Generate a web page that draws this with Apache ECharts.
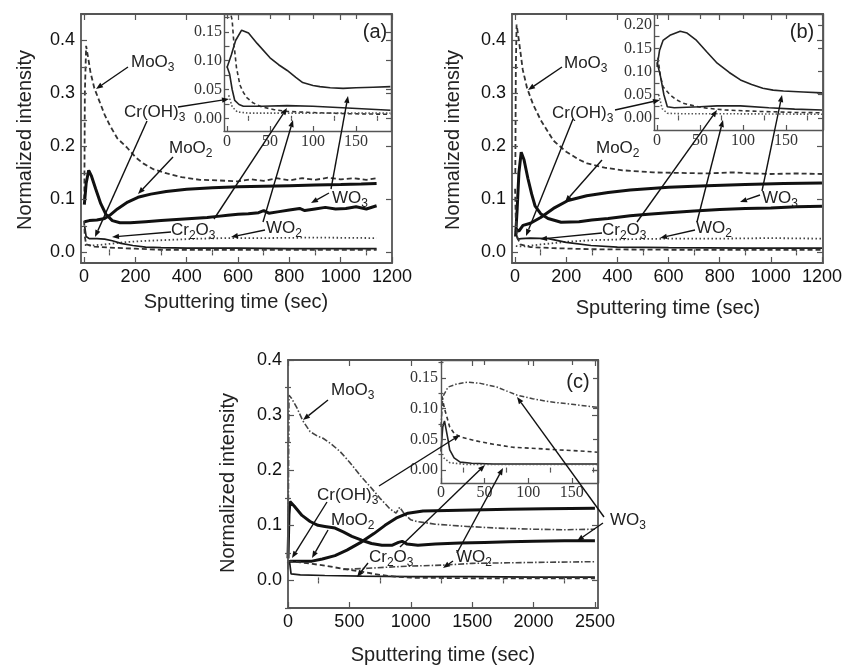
<!DOCTYPE html>
<html><head><meta charset="utf-8">
<script src="https://cdn.jsdelivr.net/npm/echarts@6/dist/echarts.min.js"></script>
<style>html,body{margin:0;padding:0;background:#fff}#c{width:847px;height:666px}</style>
</head><body><div id="c"></div>
<script>
// ---------------- DATA (time in sec, normalized intensity) ----------------
// Panel (a) main
const a_MoO3 = [[1,0.10],[3,0.30],[8,0.39],[15,0.37],[25,0.34],[40,0.31],[60,0.285],[80,0.26],[100,0.24],[130,0.215],[167,0.198],[200,0.18],[230,0.168],[270,0.157],[323,0.149],[380,0.142],[452,0.137],[520,0.136],[600,0.134],[650,0.138],[700,0.135],[750,0.14],[800,0.136],[850,0.14],[900,0.137],[950,0.141],[1000,0.138],[1050,0.14],[1100,0.137],[1140,0.14]];
const a_MoO2 = [[2,0.058],[20,0.06],[50,0.061],[80,0.064],[100,0.07],[130,0.082],[170,0.095],[210,0.104],[260,0.11],[320,0.115],[400,0.119],[500,0.122],[600,0.124],[700,0.125],[800,0.126],[900,0.127],[1000,0.128],[1080,0.129],[1140,0.13]];
const a_WO3 = [[1,0.09],[8,0.13],[18,0.155],[28,0.145],[45,0.12],[65,0.092],[85,0.072],[110,0.06],[140,0.056],[180,0.056],[240,0.058],[300,0.06],[360,0.062],[420,0.064],[480,0.066],[520,0.068],[560,0.07],[600,0.072],[640,0.073],[680,0.075],[700,0.079],[720,0.074],[760,0.077],[800,0.08],[840,0.083],[860,0.079],[900,0.082],[940,0.085],[980,0.082],[1020,0.083],[1060,0.086],[1100,0.082],[1140,0.088]];
const a_WO2 = [[3,0.014],[30,0.013],[80,0.015],[150,0.019],[250,0.022],[350,0.024],[450,0.026],[550,0.027],[700,0.027],[900,0.028],[1140,0.027]];
const a_Cr2O3 = [[2,0.05],[8,0.03],[20,0.026],[50,0.026],[80,0.025],[110,0.022],[144,0.017],[190,0.013],[240,0.01],[300,0.009],[400,0.008],[600,0.008],[800,0.007],[1000,0.007],[1140,0.007]];
const a_CrOH3 = [[0,0.06],[3,0.03],[8,0.015],[40,0.011],[100,0.009],[200,0.007],[300,0.005],[500,0.005],[800,0.005],[1140,0.005]];
// Panel (a) inset (0-180 s)
const ia_WO3 = [[0,0.088],[5,0.11],[10,0.135],[17,0.153],[25,0.148],[35,0.13],[50,0.105],[60,0.093],[70,0.083],[80,0.071],[88,0.062],[100,0.057],[108,0.055],[120,0.053],[135,0.052],[150,0.053],[170,0.054],[190,0.055]];
const ia_dash = [[3,0.19],[6,0.17],[8,0.13],[11,0.088],[15,0.058],[19,0.045],[23,0.036],[30,0.027],[40,0.02],[55,0.015],[70,0.012],[100,0.01],[140,0.008],[190,0.007]];
const ia_CrOH3 = [[0,0.09],[3,0.077],[6,0.05],[9,0.031],[14,0.024],[19,0.021],[40,0.021],[70,0.022],[100,0.021],[140,0.018],[190,0.014]];
const ia_dot = [[2,0.04],[6,0.02],[12,0.011],[25,0.009],[60,0.009],[100,0.009],[190,0.009]];
// Panel (b) main
const b_MoO3 = [[1,0.15],[3,0.35],[6,0.43],[15,0.40],[30,0.345],[47,0.31],[70,0.28],[100,0.25],[150,0.211],[200,0.19],[250,0.175],[282,0.168],[350,0.16],[420,0.155],[540,0.151],[650,0.15],[750,0.149],[850,0.151],[930,0.149],[1000,0.148],[1100,0.149],[1200,0.148]];
const b_MoO2 = [[2,0.045],[15,0.04],[31,0.051],[60,0.055],[100,0.066],[150,0.083],[207,0.098],[280,0.107],[364,0.113],[450,0.118],[600,0.123],[750,0.126],[900,0.128],[1050,0.13],[1200,0.131]];
const b_WO3 = [[2,0.03],[8,0.08],[15,0.15],[24,0.189],[35,0.175],[50,0.14],[65,0.11],[78,0.088],[100,0.073],[129,0.064],[180,0.057],[250,0.058],[300,0.061],[364,0.064],[450,0.069],[520,0.072],[600,0.075],[700,0.078],[800,0.081],[900,0.083],[1000,0.084],[1100,0.086],[1200,0.087]];
const b_WO2 = [[3,0.012],[30,0.011],[100,0.015],[200,0.02],[300,0.023],[450,0.025],[600,0.026],[800,0.026],[1000,0.027],[1200,0.026]];
const b_Cr2O3 = [[2,0.04],[10,0.025],[24,0.026],[60,0.027],[130,0.026],[200,0.019],[297,0.013],[400,0.01],[600,0.009],[900,0.008],[1200,0.008]];
const b_CrOH3 = [[0,0.12],[3,0.06],[8,0.03],[20,0.015],[60,0.01],[150,0.008],[300,0.006],[600,0.005],[1200,0.005]];
// Panel (b) inset
const ib_WO3 = [[0,0.11],[3,0.146],[7,0.167],[15,0.178],[27,0.187],[35,0.183],[46,0.167],[58,0.142],[70,0.118],[84,0.098],[97,0.082],[110,0.072],[123,0.064],[135,0.06],[147,0.058],[170,0.056],[192,0.054]];
const ib_dash = [[1,0.13],[4,0.09],[7,0.067],[15,0.05],[22,0.04],[30,0.032],[45,0.025],[58,0.021],[80,0.017],[120,0.014],[160,0.012],[192,0.011]];
const ib_CrOH3 = [[0,0.12],[4,0.09],[8,0.05],[12,0.024],[20,0.022],[50,0.024],[70,0.026],[97,0.026],[130,0.022],[160,0.019],[192,0.017]];
const ib_dot = [[2,0.05],[6,0.02],[12,0.01],[30,0.009],[80,0.009],[192,0.008]];
// Panel (c) main
const c_MoO3 = [[0,0.02],[8,0.336],[30,0.33],[73,0.313],[120,0.29],[180,0.27],[240,0.262],[285,0.258],[350,0.248],[424,0.234],[500,0.215],[590,0.19],[670,0.17],[750,0.149],[830,0.13],[880,0.122],[910,0.133],[950,0.12],[1000,0.11],[1050,0.107],[1200,0.102],[1460,0.098],[1700,0.095],[2000,0.093],[2250,0.092],[2500,0.093]];
const c_WO3 = [[0,0.04],[8,0.12],[16,0.143],[50,0.135],[114,0.118],[180,0.107],[244,0.1],[300,0.098],[383,0.095],[450,0.088],[520,0.08],[600,0.073],[680,0.067],[765,0.064],[850,0.064],[900,0.069],[930,0.071],[970,0.066],[1058,0.064],[1200,0.066],[1400,0.068],[1600,0.069],[1800,0.07],[2000,0.071],[2250,0.072],[2500,0.072]];
const c_MoO2 = [[0,0.03],[16,0.035],[100,0.035],[195,0.035],[280,0.039],[383,0.045],[480,0.055],[600,0.07],[700,0.085],[790,0.1],[880,0.113],[977,0.122],[1100,0.126],[1300,0.127],[1500,0.128],[1800,0.129],[2100,0.13],[2500,0.131]];
const c_Cr2O3 = [[0,0.035],[15,0.03],[25,0.012],[100,0.01],[300,0.009],[600,0.008],[1000,0.007],[1500,0.007],[2000,0.006],[2500,0.006]];
const c_CrOH3 = [[0,0.035],[100,0.033],[200,0.03],[300,0.027],[450,0.021],[600,0.016],[750,0.01],[870,0.007],[1000,0.005],[1500,0.004],[2000,0.004],[2500,0.004]];
const c_WO2 = [[450,0.02],[650,0.022],[800,0.024],[1000,0.026],[1280,0.028],[1500,0.031],[1800,0.032],[2100,0.033],[2500,0.034]];
// Panel (c) inset
const ic_WO3 = [[0,0.07],[2,0.119],[8,0.135],[18,0.14],[30,0.143],[45,0.141],[64,0.135],[87,0.122],[105,0.116],[125,0.111],[150,0.107],[180,0.102]];
const ic_CrOH3 = [[1,0.12],[4,0.1],[7,0.085],[10,0.07],[15,0.06],[22,0.054],[30,0.051],[45,0.046],[60,0.042],[83,0.037],[110,0.035],[133,0.033],[160,0.031],[180,0.029]];
const ic_Cr2O3 = [[0,0.03],[2,0.07],[4,0.08],[6,0.078],[8,0.05],[10,0.033],[15,0.02],[22,0.013],[35,0.011],[60,0.01],[100,0.01],[180,0.01]];
const ic_dot = [[3,0.02],[10,0.012],[30,0.009],[180,0.009]];

// tick label lists
const mainYTicks = [0, 0.1, 0.2, 0.3, 0.4];
const abXTicks = [0, 200, 400, 600, 800, 1000, 1200];
const cXTicks = [0, 500, 1000, 1500, 2000, 2500];
const insetXTicks = [0, 50, 100, 150];
const insetYTicksAC = [0, 0.05, 0.10, 0.15];
const insetYTicksB = [0, 0.05, 0.10, 0.15, 0.20];

// ---------------- BUILD ----------------
const SANS = '"Liberation Sans", Arial, sans-serif';
const SERIF = '"Liberation Serif", "Times New Roman", serif';
const FRAME = '#555';
const grids = [], xAxes = [], yAxes = [], series = [];
function steps(a, b, s) { const r = []; for (let k = 0; a + k * s <= b + 1e-9; k++) r.push(+(a + k * s).toFixed(4)); return r; }

function panel(rect, xr, yr, xMaj, xMin, yMaj, yMin, L) {
  grids.push({left: rect[0], top: rect[1], width: rect[2], height: rect[3]});
  const gi = grids.length - 1;
  const mk = (isX, pos, vals, len, showLine, showLabel) => ({
    gridIndex: gi, type: 'value', position: pos,
    min: isX ? xr[0] : yr[0], max: isX ? xr[1] : yr[1],
    axisLine: showLine ? {show: true, onZero: false, lineStyle: {color: FRAME, width: L.fw}} : {show: false},
    axisTick: {show: true, inside: true, length: len, customValues: vals, lineStyle: {color: FRAME, width: 1.2}},
    axisLabel: showLabel ? Object.assign({show: true, customValues: vals}, isX ? L.x : L.y) : {show: false},
    splitLine: {show: false}, minorTick: {show: false}, silent: true, z: 4
  });
  const xi = xAxes.length, yi = yAxes.length;
  xAxes.push(mk(true, 'bottom', xMaj, L.tl, true, true));
  xAxes.push(mk(true, 'bottom', xMin, L.tl / 2, false, false));
  xAxes.push(mk(true, 'top', xMaj, L.tl, true, false));
  xAxes.push(mk(true, 'top', xMin, L.tl / 2, false, false));
  yAxes.push(mk(false, 'left', yMaj, L.tl, true, true));
  yAxes.push(mk(false, 'left', yMin, L.tl / 2, false, false));
  yAxes.push(mk(false, 'right', yMaj, L.tl, true, false));
  yAxes.push(mk(false, 'right', yMin, L.tl / 2, false, false));
  return {xi, yi};
}
const mainLab = {
  fw: 1.8, tl: 6,
  x: {fontFamily: SANS, fontSize: 18, color: '#111', margin: 5, formatter: v => String(Math.round(v))},
  y: {fontFamily: SANS, fontSize: 18, color: '#111', margin: 6, formatter: v => v.toFixed(1)}
};
const insetLab = (m) => ({
  fw: 1.4, tl: 5,
  x: {fontFamily: SERIF, fontSize: 16, color: '#333', margin: m[0], formatter: v => String(Math.round(v))},
  y: {fontFamily: SERIF, fontSize: 16, color: '#333', margin: m[1], formatter: v => v.toFixed(2)}
});

const pA = panel([81, 14, 311, 249], [-12, 1200], [-0.02, 0.45], abXTicks, steps(100, 1100, 200), mainYTicks, steps(0.05, 0.45, 0.1), mainLab);
const pAi = panel([224, 14, 167, 117], [-3.5, 190.7], [-0.022, 0.181], insetXTicks, steps(25, 175, 50), insetYTicksAC, steps(0.025, 0.175, 0.05), insetLab([3, 2]));
const pB = panel([512, 14, 311, 249], [-12, 1204], [-0.02, 0.45], abXTicks, steps(100, 1100, 200), mainYTicks, steps(0.05, 0.45, 0.1), mainLab);
const pBi = panel([654, 14, 169, 116], [-3.5, 193], [-0.026, 0.224], insetXTicks, steps(25, 175, 50), insetYTicksB, steps(0.025, 0.225, 0.05), insetLab([3, 2]));
const pC = panel([288, 360, 310, 248], [0, 2525], [-0.05, 0.4], cXTicks, steps(250, 2250, 500), mainYTicks, steps(-0.05, 0.35, 0.1), mainLab);
const pCi = panel([441, 360, 157, 123], [0, 180], [-0.021, 0.179], insetXTicks, steps(25, 175, 50), insetYTicksAC, steps(0.025, 0.175, 0.05), insetLab([2, 3]));

const ST = {
  thick: {color: '#111', width: 3},
  solid: {color: '#1a1a1a', width: 1.7},
  dash: {color: '#333', width: 1.8, type: [5, 3]},
  dot: {color: '#444', width: 1.8, type: [1.5, 2.5]},
  dashdot: {color: '#444', width: 1.6, type: [6, 2, 1.5, 2]},
  iSolid: {color: '#222', width: 1.6},
  iDash: {color: '#333', width: 1.6, type: [4, 3]},
  iDot: {color: '#555', width: 1.6, type: [1.5, 2]},
  iDashdot: {color: '#444', width: 1.5, type: [5, 2, 1.5, 2]}
};
function ln(p, name, data, style) {
  series.push({type: 'line', name, xAxisIndex: p.xi, yAxisIndex: p.yi, data, showSymbol: false, symbol: 'none',
    animation: false, clip: true, silent: true, lineStyle: style, z: 2});
}
ln(pA, 'MoO3', a_MoO3, ST.dash); ln(pA, 'MoO2', a_MoO2, ST.thick); ln(pA, 'WO3', a_WO3, ST.thick);
ln(pA, 'WO2', a_WO2, ST.dot); ln(pA, 'Cr2O3', a_Cr2O3, ST.solid); ln(pA, 'Cr(OH)3', a_CrOH3, ST.dash);
ln(pAi, 'WO3', ia_WO3, ST.iSolid); ln(pAi, 'dash', ia_dash, ST.iDash); ln(pAi, 'Cr(OH)3', ia_CrOH3, ST.iSolid); ln(pAi, 'dot', ia_dot, ST.iDot);
ln(pB, 'MoO3', b_MoO3, ST.dash); ln(pB, 'MoO2', b_MoO2, ST.thick); ln(pB, 'WO3', b_WO3, ST.thick);
ln(pB, 'WO2', b_WO2, ST.dot); ln(pB, 'Cr2O3', b_Cr2O3, ST.solid); ln(pB, 'Cr(OH)3', b_CrOH3, ST.dash);
ln(pBi, 'WO3', ib_WO3, ST.iSolid); ln(pBi, 'dash', ib_dash, ST.iDash); ln(pBi, 'Cr(OH)3', ib_CrOH3, ST.iSolid); ln(pBi, 'dot', ib_dot, ST.iDot);
ln(pC, 'MoO3', c_MoO3, ST.dashdot); ln(pC, 'MoO2', c_MoO2, ST.thick); ln(pC, 'WO3', c_WO3, ST.thick);
ln(pC, 'WO2', c_WO2, ST.dashdot); ln(pC, 'Cr2O3', c_Cr2O3, ST.solid); ln(pC, 'Cr(OH)3', c_CrOH3, ST.dash);
ln(pCi, 'WO3', ic_WO3, ST.iDashdot); ln(pCi, 'Cr(OH)3', ic_CrOH3, ST.iDash); ln(pCi, 'Cr2O3', ic_Cr2O3, ST.iSolid); ln(pCi, 'dot', ic_dot, ST.iDot);

// ---------------- ANNOTATIONS ----------------
const graphic = [];
const RICH = {
  n: {fontFamily: SANS, fontSize: 17, fill: '#222', lineHeight: 17, verticalAlign: 'top'},
  s: {fontFamily: SANS, fontSize: 12, fill: '#222', lineHeight: 12, verticalAlign: 'top', padding: [8, 0, 0, 0]}
};
function label(x, y, parts) {
  const t = parts.map((p, i) => (i % 2 ? '{s|' : '{n|') + p + '}').join('');
  graphic.push({type: 'text', x, y, z: 20, silent: true,
    style: {text: t, rich: RICH, textAlign: 'left', textVerticalAlign: 'middle', fill: '#222'}});
}
function arrow(x1, y1, x2, y2) {
  const a = Math.atan2(y2 - y1, x2 - x1), L = 7, Wd = 2.7;
  const bx = x2 - L * Math.cos(a), by = y2 - L * Math.sin(a);
  graphic.push({type: 'line', z: 19, silent: true, shape: {x1, y1, x2: bx, y2: by}, style: {stroke: '#111', lineWidth: 1.4}});
  graphic.push({type: 'polygon', z: 19, silent: true, shape: {points: [[x2, y2],
    [bx + Wd * Math.sin(a), by - Wd * Math.cos(a)], [bx - Wd * Math.sin(a), by + Wd * Math.cos(a)]]}, style: {fill: '#111'}});
}
function text(x, y, s, size, rot) {
  graphic.push({type: 'text', x, y, rotation: rot || 0, z: 20, silent: true,
    style: {text: s, fontFamily: SANS, fontSize: size, fill: '#222', textAlign: 'center', textVerticalAlign: 'middle'}});
}
// panel (a)
label(131, 62, ['MoO', '3']); label(124, 112, ['Cr(OH)', '3']); label(169, 148, ['MoO', '2']);
label(171, 230, ['Cr', '2', 'O', '3']); label(266, 228, ['WO', '2']); label(332, 198, ['WO', '3']);
arrow(128, 67, 96, 89); arrow(178, 107, 229, 99); arrow(147, 121, 95, 237); arrow(173, 157, 138, 194);
arrow(171, 232, 112, 237); arrow(214, 219, 287, 108); arrow(265, 230, 231, 237); arrow(263, 222, 293, 120);
arrow(329, 193, 311, 203); arrow(331, 189, 348, 96);
text(375, 32, '(a)', 20);
// panel (b)
label(564, 63, ['MoO', '3']); label(552, 113, ['Cr(OH)', '3']); label(596, 148, ['MoO', '2']);
label(602, 230, ['Cr', '2', 'O', '3']); label(696, 228, ['WO', '2']); label(762, 198, ['WO', '3']);
arrow(562, 67, 528, 90); arrow(615, 110, 660, 100); arrow(573, 119, 526, 236); arrow(602, 160, 565, 202);
arrow(602, 233, 540, 239); arrow(637, 222, 717, 110); arrow(695, 230, 660, 238); arrow(697, 222, 723, 120);
arrow(760, 195, 740, 202); arrow(762, 191, 782, 95);
text(802, 32, '(b)', 20);
// panel (c)
label(331, 390, ['MoO', '3']); label(317, 495, ['Cr(OH)', '3']); label(331, 520, ['MoO', '2']);
label(369, 557, ['Cr', '2', 'O', '3']); label(456, 557, ['WO', '2']); label(610, 520, ['WO', '3']);
arrow(328, 400, 303, 420); arrow(379, 486, 460, 435); arrow(327, 502, 292, 558); arrow(328, 530, 312, 558);
arrow(368, 563, 357, 577); arrow(400, 547, 485, 465); arrow(453, 561, 443, 568); arrow(457, 553, 503, 468);
arrow(604, 517, 517, 397); arrow(603, 523, 577, 541);
text(578, 382, '(c)', 20);
// axis titles
text(25, 140, 'Normalized intensity', 20, Math.PI / 2);
text(453, 140, 'Normalized intensity', 20, Math.PI / 2);
text(228, 483, 'Normalized intensity', 20, Math.PI / 2);
text(236, 302, 'Sputtering time (sec)', 20);
text(668, 308, 'Sputtering time (sec)', 20);
text(443, 655, 'Sputtering time (sec)', 20);

const chart = echarts.init(document.getElementById('c'), null, {renderer: 'canvas'});
chart.setOption({animation: false, backgroundColor: '#fff', grid: grids, xAxis: xAxes, yAxis: yAxes, series, graphic});
</script></body></html>
